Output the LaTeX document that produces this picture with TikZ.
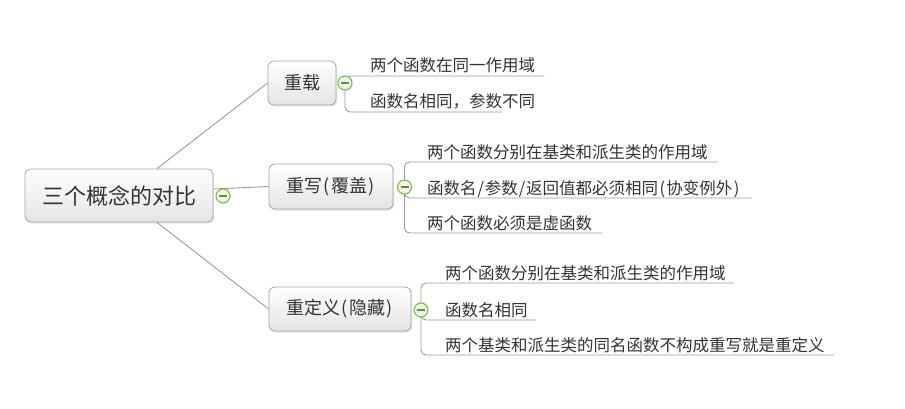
\documentclass[tikz,border=0pt]{standalone}
\usepackage{fontspec}
\newfontfamily\cjk{Noto Sans CJK SC}
\usetikzlibrary{calc,shadows}
\definecolor{linegray}{HTML}{9A9A9A}
\definecolor{boxborder}{HTML}{A6A6A6}
\definecolor{boxbot}{HTML}{E4E4E4}
\definecolor{txt}{HTML}{333333}
\definecolor{greenring}{HTML}{7CB84E}
\definecolor{greenfill}{HTML}{EEF6E8}
\definecolor{minuscol}{HTML}{5E8F45}
\newcommand\halfw[1]{\makebox[0.5em]{#1}}
\begin{document}
\begin{tikzpicture}[x=1pt,y=-1pt,
 topic/.style={draw=boxborder, rounded corners=6pt, top color=white, bottom color=boxbot,
   line width=0.8pt, inner sep=0pt, text=txt,
   drop shadow={shadow xshift=1.2pt, shadow yshift=-1.5pt, opacity=0.22}},
 subfont/.style={font=\cjk\fontsize{18}{20}\selectfont},
 leaf/.style={anchor=base west, inner sep=0pt, text=txt, font=\cjk\fontsize{16.5}{18}\selectfont},
 conn/.style={draw=linegray, line width=0.9pt},
 uline/.style={conn, rounded corners=5pt},
 fold/.style={circle, draw=greenring, fill=greenfill, line width=1.1pt, minimum size=14pt, inner sep=0pt,
   path picture={\draw[minuscol, line width=1.4pt]
     ([xshift=-4pt]path picture bounding box.center) -- ([xshift=4pt]path picture bounding box.center);}}
]
\useasboundingbox (0,0) rectangle (905,409);

% topics
\node[topic, minimum width=188pt, minimum height=53pt, font=\cjk\fontsize{22}{24}\selectfont] (root) at (119,195.5) {三个概念的对比};
\node[topic, subfont, minimum width=68pt, minimum height=44pt] (b1) at (302,83) {重载};
\node[topic, subfont, minimum width=124pt, minimum height=45pt] (b2) at (331,186.5) {重写\halfw{(}覆盖\halfw{)}};
\node[topic, subfont, minimum width=142pt, minimum height=44pt] (b3) at (340,309) {重定义\halfw{(}隐藏\halfw{)}};

% fold markers positions
\coordinate (k0) at (223,196);
\coordinate (k1) at (345,83);
\coordinate (k2) at (404.5,187);
\coordinate (k3) at (421,310);

% main connectors
\draw[conn] ([xshift=38pt]root.north) -- (b1.west);
\draw[conn] ([yshift=6.5pt]root.east) -- (b2.west);
\draw[conn] ([xshift=38pt]root.south) -- (b3.west);

% leaves
\node[leaf] (l11) at (370,72) {两个函数在同一作用域};
\node[leaf] (l12) at (370,108) {函数名相同，参数不同};

\node[leaf] (l21) at (427,158) {两个函数分别在基类和派生类的作用域};
\node[leaf] (l22) at (427,194) {函数名\halfw{/}参数\halfw{/}返回值都必须相同\halfw{(}协变例外\halfw{)}};
\node[leaf] (l23) at (427,229) {两个函数必须是虚函数};

\node[leaf] (l31) at (445,279) {两个函数分别在基类和派生类的作用域};
\node[leaf] (l32) at (445,316) {函数名相同};
\node[leaf] (l33) at (445,351) {两个基类和派生类的同名函数不构成重写就是重定义};

% underlines
\draw[uline] (k1) |- ($(l11.base east)+(9,4)$);
\draw[uline] (k1) |- ($(l12.base west)+(132,4)$);

\draw[uline] (k2) |- ($(l21.base east)+(10,4)$);
\draw[uline] (k2) |- ($(l22.base east)+(11,4)$);
\draw[uline] (k2) |- ($(l23.base east)+(10,4)$);

\draw[uline] (k3) |- ($(l31.base east)+(8,4)$);
\draw[uline] (k3) |- ($(l32.base east)+(8,4)$);
\draw[uline] (k3) |- ($(l33.base east)+(9,4)$);

% fold markers
\node[fold] (c0) at (k0) {};
\node[fold] (c1) at (k1) {};
\node[fold] (c2) at (k2) {};
\node[fold] (c3) at (k3) {};
\end{tikzpicture}
\end{document}
